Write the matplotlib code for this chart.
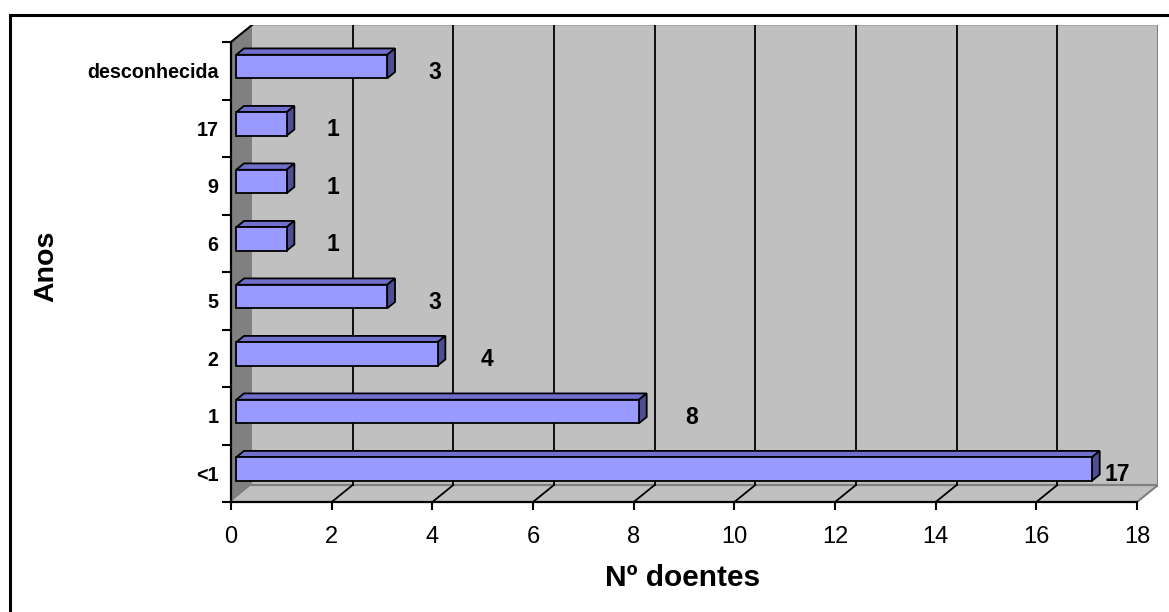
import matplotlib.pyplot as plt
from matplotlib.patches import Polygon, Rectangle

# patients per age group
categories = ['<1', '1', '2', '5', '6', '9', '17', 'desconhecida']
doentes = [17, 8, 4, 3, 1, 1, 1, 3]
xticks = list(range(0, 19, 2))

plt.rcParams['font.family'] = ['Liberation Sans', 'DejaVu Sans']

W, H = 1169, 612
fig = plt.figure(figsize=(W / 100, H / 100), dpi=100)
ax = fig.add_axes([231 / W, 110 / H, 927 / W, 477 / H])

# depth of the 3d box in data units
DX, DY = 0.417, 0.296
n = len(categories)
xmax = 18
ax.set_xlim(0, xmax + DX)
ax.set_ylim(0, n + DY)

wall = '#c0c0c0'
# left wall, floor, back wall
ax.add_patch(Polygon([(0, 0), (DX, DY), (DX, n + DY), (0, n)],
                     closed=True, fc='#808080', ec='none', zorder=0))
ax.add_patch(Polygon([(0, 0), (xmax, 0), (xmax + DX, DY), (DX, DY)],
                     closed=True, fc=wall, ec='none', zorder=0))
ax.add_patch(Rectangle((DX, DY), xmax, n, fc=wall, ec='none', zorder=0))
ax.plot([DX, xmax + DX], [n + DY, n + DY], color='#a8a8a8', lw=1.5, zorder=1)
ax.plot([xmax + DX, xmax + DX], [DY, n + DY], color='#808080', lw=2.2, zorder=1)
ax.plot([DX, xmax + DX], [DY, DY], color='#808080', lw=1.6, zorder=1)
ax.plot([xmax, xmax + DX], [0, DY], color='#808080', lw=1.5, zorder=1)
ax.plot([0, DX], [n, n + DY], color='black', lw=1.5, zorder=1)

# grid on the back wall and floor
for t in xticks[1:-1]:
    ax.plot([t + DX, t + DX], [DY, n + DY], color='black', lw=1.3, zorder=1)
    ax.plot([t, t + DX], [0, DY], color='black', lw=1.3, zorder=1)

# bars: front face, then top and side faces
f0, f1 = 0.25, 0.62
bh = 0.41
ypos = [i + 0.5 + f0 * DY for i in range(n)]
bars = ax.barh(ypos, doentes, height=bh, left=f0 * DX, color='#9999ff',
               edgecolor='black', linewidth=1.3, zorder=3)
ddx, ddy = (f1 - f0) * DX, (f1 - f0) * DY
for b in bars:
    x0, y0, w, h = b.get_x(), b.get_y(), b.get_width(), b.get_height()
    top = [(x0, y0 + h), (x0 + w, y0 + h), (x0 + w + ddx, y0 + h + ddy),
           (x0 + ddx, y0 + h + ddy)]
    side = [(x0 + w, y0), (x0 + w, y0 + h), (x0 + w + ddx, y0 + h + ddy),
            (x0 + w + ddx, y0 + ddy)]
    ax.add_patch(Polygon(top, closed=True, fc='#7070cc', ec='black', lw=1.3, zorder=2.9))
    ax.add_patch(Polygon(side, closed=True, fc='#4e4e94', ec='black', lw=1.3, zorder=2.9))

# value labels
for i, v in enumerate(doentes):
    x = v * 1.02 + 1
    if x > xmax:
        x = v + 0.6
    ax.text(x, i + 0.47, str(v), ha='center', va='center', fontsize=16.5,
            fontweight='bold', zorder=4)

# axes lines and ticks
for s in ['top', 'right']:
    ax.spines[s].set_visible(False)
ax.spines['bottom'].set_bounds(0, xmax)
ax.spines['left'].set_bounds(0, n)
for s in ['bottom', 'left']:
    ax.spines[s].set_linewidth(1.6)
    ax.spines[s].set_zorder(5)

ax.set_xticks(xticks)
ax.set_xticklabels([str(t) for t in xticks], fontsize=17)
ax.tick_params(axis='x', length=6, width=1.5, pad=11)

ax.set_yticks(range(n + 1))
ax.set_yticklabels([])
ax.set_yticks([i + 0.5 for i in range(n)], minor=True)
ax.set_yticklabels(categories, minor=True, fontsize=14.2, fontweight='bold')
ax.tick_params(axis='y', which='major', length=6.5, width=1.5)
ax.tick_params(axis='y', which='minor', length=0, pad=9)

fig.text(683 / W, 1 - 578 / H, 'Nº doentes', ha='center', va='center',
         fontsize=21.5, fontweight='bold')
fig.text(46 / W, 1 - 266 / H, 'Anos', ha='center', va='center',
         rotation=90, fontsize=20.5, fontweight='bold')

# chart border
fig.patches.append(Rectangle((9.5 / W, -0.2), 1.5, 1.2 - 14.5 / H,
                             transform=fig.transFigure, fill=False,
                             ec='black', lw=2.2))

fig.savefig('out.png', dpi=100)
